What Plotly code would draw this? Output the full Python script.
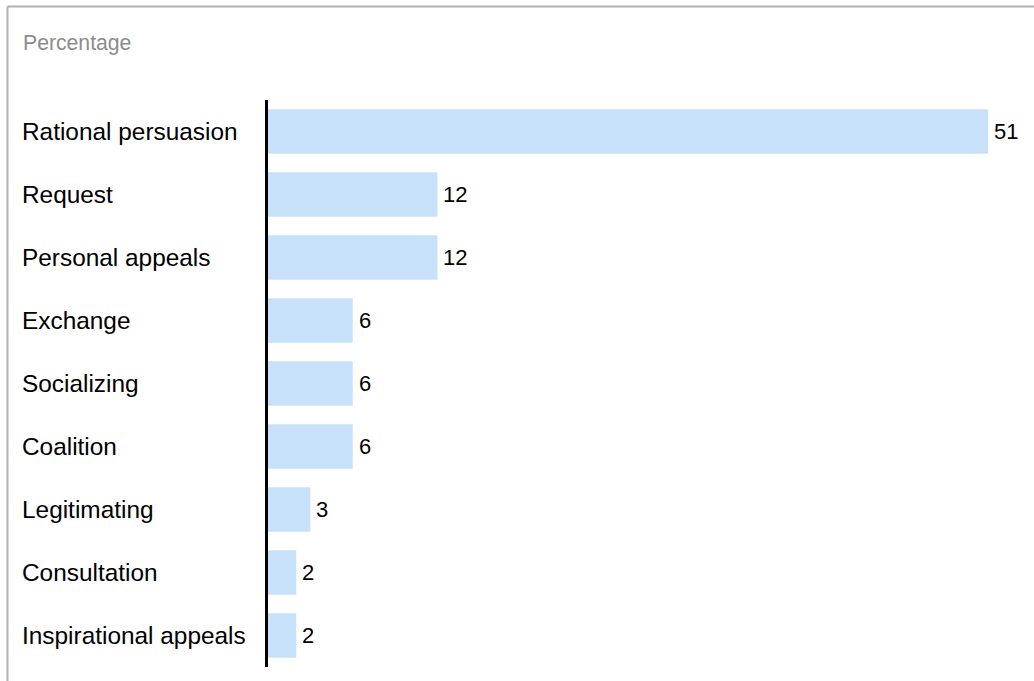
import plotly.graph_objects as go

categories = ["Rational persuasion", "Request", "Personal appeals", "Exchange",
              "Socializing", "Coalition", "Legitimating", "Consultation",
              "Inspirational appeals"]
values = [51, 12, 12, 6, 6, 6, 3, 2, 2]
title_text = "Percentage"

W, H = 1034, 681
ML, MR, MT, MB = 268, 5, 100, 14
PW = W - ML - MR
PH = H - MT - MB


def px_x(px):
    return (px - ML) / PW


def px_y(py):
    return (H - MB - py) / PH


FONT = "Liberation Sans, Arial, sans-serif"
BAR = "#c8e1fa"

fig = go.Figure(go.Bar(
    x=values, y=categories, orientation="h",
    marker=dict(color=BAR, line=dict(width=0)),
    hoverinfo="skip",
))

annotations = []
for c, v in zip(categories, values):
    annotations.append(dict(x=v, y=c, xref="x", yref="y", text=str(v),
                            showarrow=False, xanchor="left", yanchor="middle",
                            xshift=4, font=dict(family=FONT, size=22, color="#000")))
    annotations.append(dict(x=px_x(20), y=c, xref="paper", yref="y", text=c,
                            showarrow=False, xanchor="left", yanchor="middle",
                            font=dict(family=FONT, size=24.4, color="#000")))
annotations.append(dict(x=px_x(21), y=px_y(43), xref="paper", yref="paper",
                        text=title_text, showarrow=False, xanchor="left",
                        yanchor="middle", font=dict(family=FONT, size=21.2, color="#8c8c8c")))

shapes = [
    dict(type="line", xref="paper", yref="paper", x0=px_x(7.5), x1=px_x(1040),
         y0=px_y(6.5), y1=px_y(6.5), line=dict(color="#b0b0b0", width=2)),
    dict(type="line", xref="paper", yref="paper", x0=px_x(7.5), x1=px_x(7.5),
         y0=px_y(6.5), y1=px_y(690), line=dict(color="#b0b0b0", width=2)),
]

fig.update_layout(
    width=W, height=H,
    margin=dict(l=ML, r=MR, t=MT, b=MB, pad=0),
    paper_bgcolor="white", plot_bgcolor="white",
    bargap=0.295,
    showlegend=False,
    xaxis=dict(range=[0, PW / 14.12], visible=False, fixedrange=True),
    yaxis=dict(categoryorder="array", categoryarray=categories, autorange="reversed",
               showticklabels=False, ticks="", showgrid=False, zeroline=False,
               showline=True, linecolor="black", linewidth=3, fixedrange=True),
    annotations=annotations,
    shapes=shapes,
)

fig.write_html("out.html", config={"displayModeBar": False},
               post_script="document.body.style.margin='0';")
